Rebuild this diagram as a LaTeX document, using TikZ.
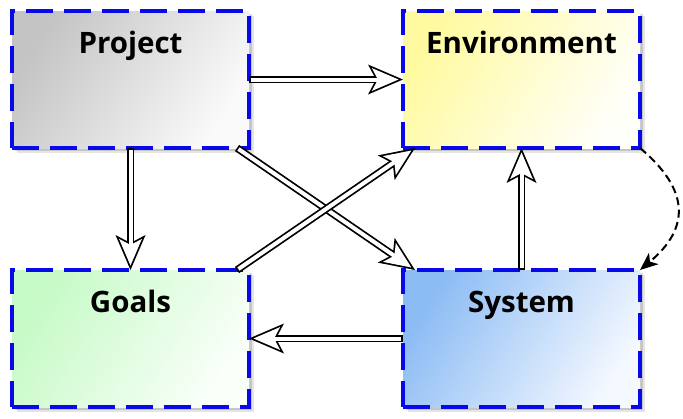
\documentclass[tikz,border=0pt]{standalone}
\usepackage{fontspec}
\setmainfont{Open Sans}
\usetikzlibrary{arrows.meta,shadows}
\definecolor{boxblue}{RGB}{8,8,232}
\definecolor{projA}{RGB}{196,196,196}
\definecolor{projB}{RGB}{250,250,250}
\definecolor{envA}{RGB}{255,250,160}
\definecolor{envB}{RGB}{255,255,250}
\definecolor{goalA}{RGB}{198,250,198}
\definecolor{goalB}{RGB}{250,255,250}
\definecolor{sysA}{RGB}{140,188,244}
\definecolor{sysB}{RGB}{244,248,255}
\begin{document}
\begin{tikzpicture}[x=1pt,y=-1pt,
  box/.style={rectangle, inner sep=0pt, outer sep=0pt, minimum width=237pt,
    text height=42pt, text depth=95pt,
    draw=boxblue, line width=4.8pt, dash pattern=on 27pt off 11pt,
    font=\fontsize{29.5}{32}\selectfont\bfseries,
    drop shadow={shadow xshift=5pt, shadow yshift=-5pt, opacity=.10, fill=black},
    drop shadow={shadow xshift=2.5pt, shadow yshift=-2.5pt, opacity=.14, fill=black}},
  shadetwo/.style 2 args={top color=#1, bottom color=#2, shading angle=58},
  bigarrow/.style={draw=black, line width=7.5pt, line cap=butt,
    -{Stealth[length=35pt, width=30pt, inset=8pt, line width=0pt]},
    postaction={draw=white, line width=4pt, shorten <=1.75pt, shorten >=4.44pt,
      -{Stealth[length=26.7pt, width=22.9pt, inset=6.1pt, line width=0pt]}}},
  loopline/.style={draw=black, line width=2pt, dash pattern=on 8pt off 4.5pt,
    -{Stealth[length=18pt, width=15pt, inset=5pt, line width=0pt]}}
]
\useasboundingbox (0,0) rectangle (683,418);
\node[box, shadetwo={projA}{projB}] (P) at (130.5,79.5) {Project};
\node[box, shadetwo={envA}{envB}] (E) at (521.5,79.5) {Environment};
\node[box, shadetwo={goalA}{goalB}] (G) at (130.5,338.5) {Goals};
\node[box, shadetwo={sysA}{sysB}] (S) at (521.5,338.5) {System};
\draw[bigarrow] (P.east) -- (E.west);
\draw[bigarrow] (P.south) -- (G.north);
\draw[bigarrow] (S.north) -- (E.south);
\draw[bigarrow] (S.west) -- (G.east);
\draw[bigarrow] ([xshift=-12pt]P.south east) -- ([xshift=12pt]S.north west);
\draw[bigarrow] ([xshift=-12pt]G.north east) -- ([xshift=12pt]E.south west);
\draw[loopline] (E.south east) .. controls ([xshift=50pt,yshift=-42pt]E.south east)
  and ([xshift=50pt,yshift=42pt]S.north east) .. (S.north east);
\end{tikzpicture}
\end{document}
